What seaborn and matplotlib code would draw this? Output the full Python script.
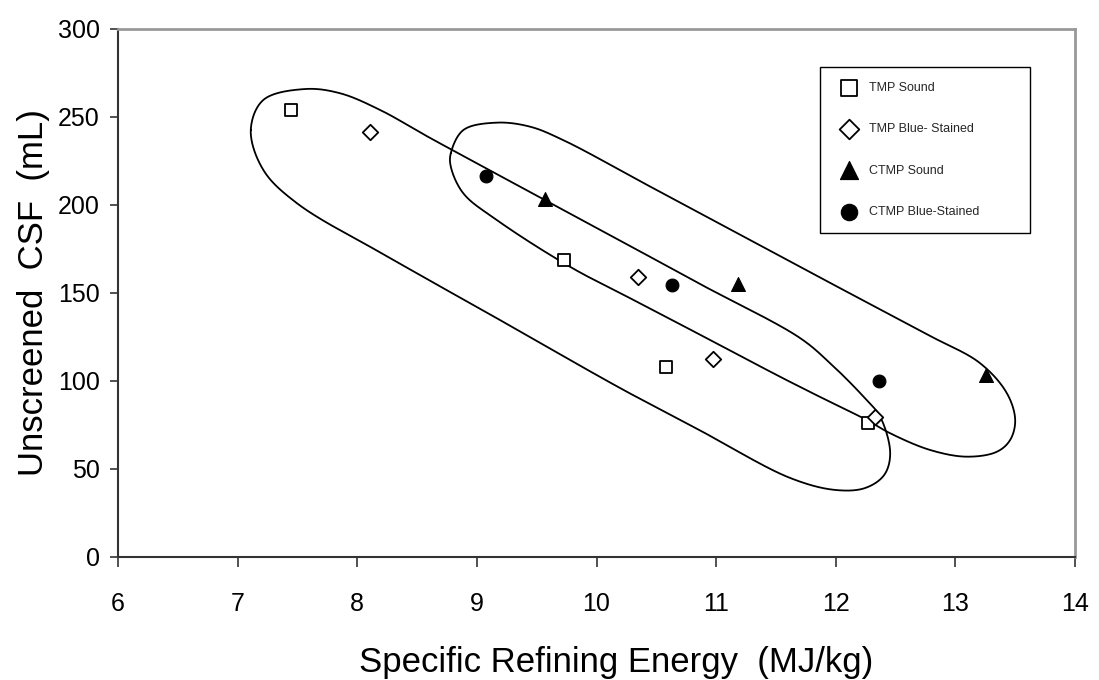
import numpy as np
import pandas as pd
import matplotlib
matplotlib.use("Agg")
import matplotlib.pyplot as plt
import seaborn as sns

# ---- data ----
series_names = ["TMP Sound", "TMP Blue- Stained", "CTMP Sound", "CTMP Blue-Stained"]
tmp_sound_x = [7.45, 9.73, 10.58, 12.27]
tmp_sound_y = [253.8, 168.8, 107.8, 76.0]
tmp_blue_x = [8.11, 10.35, 10.97, 12.33]
tmp_blue_y = [241.6, 159.3, 112.5, 79.7]
ctmp_sound_x = [9.57, 11.18, 13.26]
ctmp_sound_y = [203.2, 155.0, 103.4]
ctmp_blue_x = [9.08, 10.63, 12.36]
ctmp_blue_y = [216.6, 154.4, 100.2]

x_ticks = [6, 7, 8, 9, 10, 11, 12, 13, 14]
y_ticks = [0, 50, 100, 150, 200, 250, 300]

# hand-drawn grouping outlines (control points in data units)
tmp_outline_x = [7.110, 7.215, 7.564, 7.856, 8.191, 8.609, 9.570, 10.197, 10.866, 11.702,
                 11.953, 12.232, 12.371, 12.455, 12.405, 12.246, 11.995, 11.619, 10.866,
                 10.197, 9.236, 8.274, 7.494, 7.215]
tmp_outline_y = [242.6, 259.7, 265.9, 263.5, 254.0, 238.1, 202.8, 179.8, 155.1, 124.4,
                 110.1, 91.1, 79.7, 58.9, 46.6, 39.2, 38.1, 44.9, 71.9,
                 96.0, 133.0, 169.9, 201.1, 219.9]
ctmp_outline_x = [8.782, 8.887, 9.166, 9.445, 9.721, 10.448, 11.284, 12.120, 12.789, 13.207,
                  13.431, 13.500, 13.458, 13.347, 13.096, 12.789, 12.455, 12.260, 11.870,
                  11.535, 10.950, 10.365, 9.779, 9.166, 8.887, 8.782]
ctmp_outline_y = [229.4, 242.6, 246.8, 244.5, 236.9, 210.5, 180.1, 149.7, 125.6, 110.1,
                  93.0, 77.8, 66.5, 59.8, 57.0, 60.8, 70.3, 77.8, 90.9,
                  102.4, 123.3, 144.1, 164.9, 191.5, 206.6, 221.8]

df = pd.concat([
    pd.DataFrame({"x": tmp_sound_x, "y": tmp_sound_y, "series": series_names[0]}),
    pd.DataFrame({"x": tmp_blue_x, "y": tmp_blue_y, "series": series_names[1]}),
    pd.DataFrame({"x": ctmp_sound_x, "y": ctmp_sound_y, "series": series_names[2]}),
    pd.DataFrame({"x": ctmp_blue_x, "y": ctmp_blue_y, "series": series_names[3]}),
], ignore_index=True)

styles = {
    series_names[0]: dict(marker="s", s=68, facecolor="white", edgecolor="black", linewidth=1.3),
    series_names[1]: dict(marker="D", s=62, facecolor="white", edgecolor="black", linewidth=1.3),
    series_names[2]: dict(marker="^", s=100, facecolor="black", edgecolor="black", linewidth=0.8),
    series_names[3]: dict(marker="o", s=85, facecolor="black", edgecolor="black", linewidth=0.8),
}
legend_sizes = [120, 100, 170, 140]


def closed_centripetal_cr(xs, ys, sx=119.6, sy=1.76, n=40, alpha=0.5):
    """Closed centripetal Catmull-Rom spline; knot spacing measured in screen-like units."""
    P = np.column_stack([np.asarray(xs) * sx, np.asarray(ys) * sy]).astype(float)
    m = len(P)
    pts = []
    for i in range(m):
        p0, p1, p2, p3 = P[(i - 1) % m], P[i], P[(i + 1) % m], P[(i + 2) % m]
        t0 = 0.0
        t1 = t0 + np.linalg.norm(p1 - p0) ** alpha
        t2 = t1 + np.linalg.norm(p2 - p1) ** alpha
        t3 = t2 + np.linalg.norm(p3 - p2) ** alpha
        t = np.linspace(t1, t2, n, endpoint=False)[:, None]
        a1 = (t1 - t) / (t1 - t0) * p0 + (t - t0) / (t1 - t0) * p1
        a2 = (t2 - t) / (t2 - t1) * p1 + (t - t1) / (t2 - t1) * p2
        a3 = (t3 - t) / (t3 - t2) * p2 + (t - t2) / (t3 - t2) * p3
        b1 = (t2 - t) / (t2 - t0) * a1 + (t - t0) / (t2 - t0) * a2
        b2 = (t3 - t) / (t3 - t1) * a2 + (t - t1) / (t3 - t1) * a3
        c = (t2 - t) / (t2 - t1) * b1 + (t - t1) / (t2 - t1) * b2
        pts.append(c)
    pts = np.vstack(pts)
    pts = np.vstack([pts, pts[:1]])
    return pts[:, 0] / sx, pts[:, 1] / sy


sns.set_theme(style="white")
plt.rcParams["font.family"] = ["Liberation Sans", "DejaVu Sans"]

fig = plt.figure(figsize=(10.99, 6.80), dpi=100)
ax = fig.add_axes([118 / 1099, 123 / 680, 957 / 1099, 528 / 680])

for xs, ys in [(tmp_outline_x, tmp_outline_y), (ctmp_outline_x, ctmp_outline_y)]:
    cx, cy = closed_centripetal_cr(xs, ys)
    ax.plot(cx, cy, color="black", linewidth=1.3, zorder=2)

for name in series_names:
    sub = df[df["series"] == name]
    st = styles[name]
    sns.scatterplot(data=sub, x="x", y="y", ax=ax, label=name, zorder=3, **st)

ax.set_xlim(6, 14)
ax.set_ylim(0, 300)
ax.set_xticks(x_ticks)
ax.set_yticks(y_ticks)
ax.set_xticklabels([str(v) for v in x_ticks])
ax.set_yticklabels([str(v) for v in y_ticks])

ax.set_xlabel("Specific Refining Energy  (MJ/kg)", fontsize=25, labelpad=22, color="black")
ax.xaxis.label.set_x(0.52)
ax.set_ylabel("Unscreened  CSF  (mL)", fontsize=25, labelpad=6, color="black")

ax.tick_params(axis="x", direction="out", length=7, width=1.2, color="#333333",
               labelsize=18, pad=18, labelcolor="black", bottom=True)
ax.tick_params(axis="y", direction="out", length=6, width=1.2, color="#333333",
               labelsize=18, pad=7, labelcolor="black", left=True)

for side in ["left", "bottom"]:
    ax.spines[side].set_color("#333333")
    ax.spines[side].set_linewidth(1.5)
for side in ["top", "right"]:
    ax.spines[side].set_color("#999999")
    ax.spines[side].set_linewidth(2.0)

leg = ax.legend(loc="lower left", bbox_to_anchor=(0.7335, 0.6136, 0.2195, 0.328), mode="expand",
                fontsize=9, frameon=True, fancybox=False, shadow=False,
                borderpad=1.2, labelspacing=2.35, handlelength=2.2, handletextpad=0.5,
                borderaxespad=0)
leg.get_frame().set_edgecolor("black")
leg.get_frame().set_linewidth(1.0)
leg.get_frame().set_alpha(1)
for h, sz in zip(leg.legend_handles, legend_sizes):
    h.set_sizes([sz])

fig.savefig("out.png", dpi=100, facecolor="white")
